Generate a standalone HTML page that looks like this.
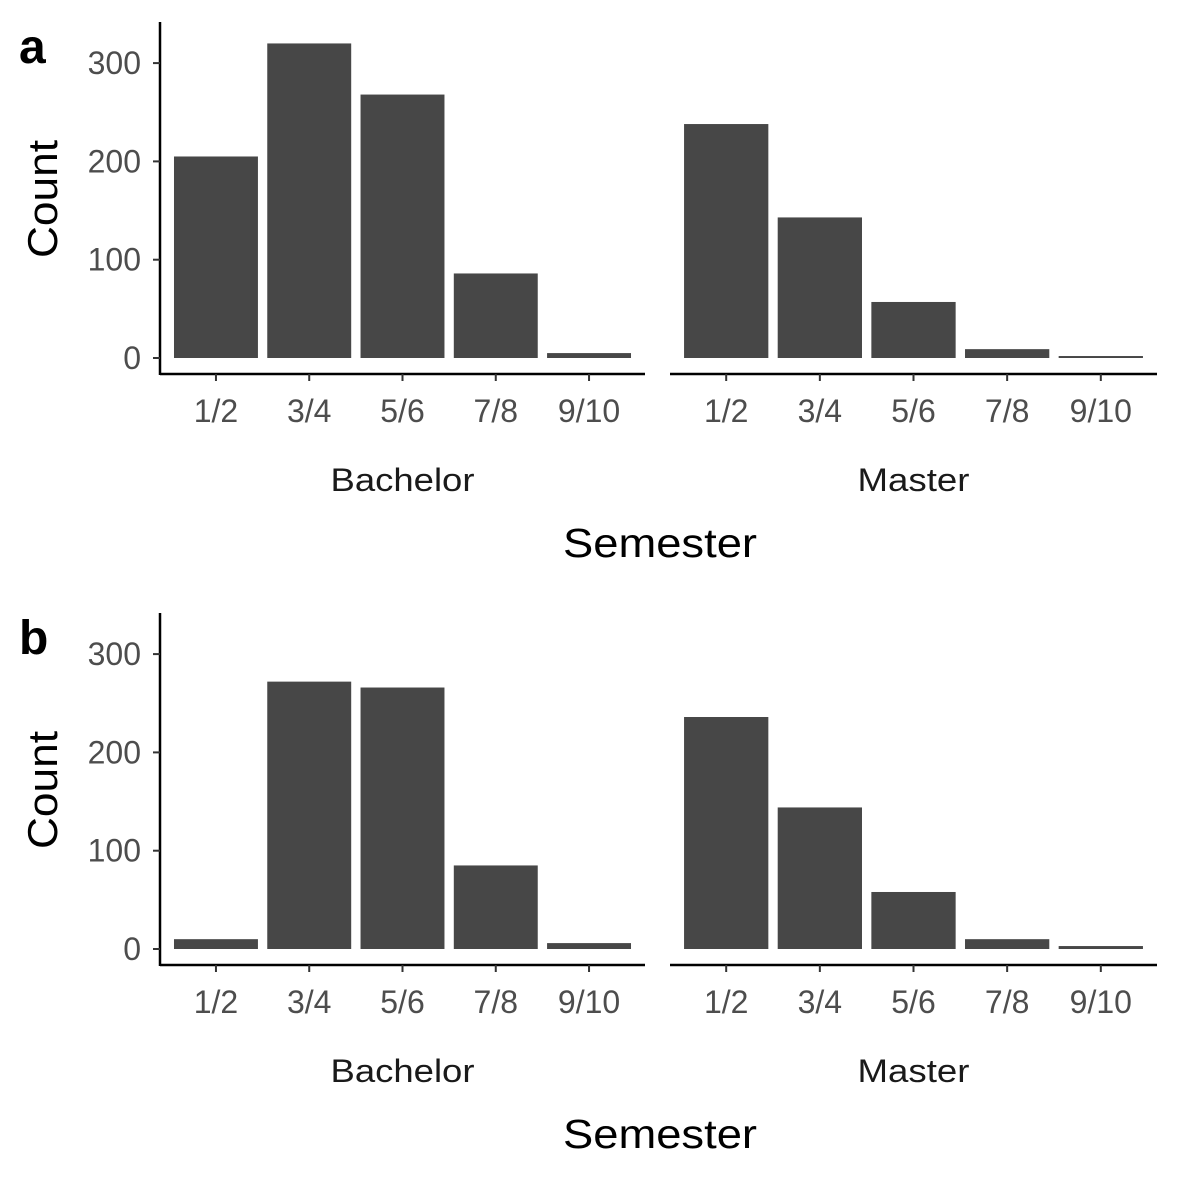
<!DOCTYPE html>
<html><head><meta charset="utf-8"><style>
body{margin:0;background:#fff}
svg{display:block;font-family:"Liberation Sans",Arial,sans-serif}
</style></head><body>
<svg id="chart" width="1181" height="1181" viewBox="0 0 1181 1181"></svg>
<script>
const categories = ["1/2","3/4","5/6","7/8","9/10"];
const facets = ["Bachelor","Master"];
const yTicks = [0,100,200,300];
const panelLabels = ["a","b"];
const aBachelor = [205,320,268,86,5];
const aMaster = [238,143,57,9,2];
const bBachelor = [10,272,266,85,6];
const bMaster = [236,144,58,10,3];
const panelData = [[aBachelor,aMaster],[bBachelor,bMaster]];
const facetWidths = [144,112];

const NS="http://www.w3.org/2000/svg";
const svg=document.getElementById('chart');
function mk(tag,attrs,parent,text){const e=document.createElementNS(NS,tag);for(const k in attrs)e.setAttribute(k,attrs[k]);if(text!==undefined)e.textContent=text;(parent||svg).appendChild(e);return e;}

const pxPer=0.983;
const facetX=[[160,645],[670,1157]];
panelData.forEach((pd,pi)=>{
  const off=pi*591;
  const zeroY=358+off;
  const y=v=>zeroY-v*pxPer;
  const g=mk('g',{});
  
  
  const pl=mk('text',{x:19,y:63+off,'font-size':48,'font-weight':'bold',fill:'#000'},g,panelLabels[pi]);
  
  
  const yt=mk('text',{x:57,y:199+off,'font-size':42,fill:'#000','text-anchor':'middle',textLength:118,lengthAdjust:'spacingAndGlyphs',transform:`rotate(-90 57 ${199+off})`},g,'Count');
  
  
  const yl=mk('line',{x1:160,x2:160,y1:22+off,y2:375+off,stroke:'#000','stroke-width':2.5},g);
  
  
  yTicks.forEach(t=>{
    mk('line',{x1:153,x2:160,y1:y(t),y2:y(t),stroke:'#333','stroke-width':2},g);
    const tl=mk('text',{x:141,y:y(t)+11,'font-size':32,fill:'#4d4d4d','text-anchor':'end'},g,String(t));
    
    
  });
  facets.forEach((f,fi)=>{
    const [x0,x1]=facetX[fi];
    const step=(x1-x0)/(categories.length-1+1.2);
    const cx=i=>x0+step*(0.6+i);
    const xl=mk('line',{x1:x0,x2:x1,y1:374+off,y2:374+off,stroke:'#000','stroke-width':2.5},g);
    
    
    categories.forEach((c,i)=>{
      const v=pd[fi][i];
      const b=mk('rect',{x:cx(i)-step*0.45,y:y(v),width:step*0.9,height:zeroY-y(v),fill:'#474747'},g);
      
      
      mk('line',{x1:cx(i),x2:cx(i),y1:374+off,y2:381+off,stroke:'#333','stroke-width':2},g);
      const tl=mk('text',{x:cx(i),y:422+off,'font-size':32,fill:'#4d4d4d','text-anchor':'middle'},g,c);
      
      
    });
    const fl=mk('text',{x:(x0+x1)/2,y:491+off,'font-size':32,fill:'#1a1a1a','text-anchor':'middle',textLength:facetWidths[fi],lengthAdjust:'spacingAndGlyphs'},g,f);
    
    
  });
  const xt=mk('text',{x:660,y:557+off,'font-size':41,fill:'#000','text-anchor':'middle',textLength:194,lengthAdjust:'spacingAndGlyphs'},g,'Semester');
  
  
});
</script>
</body></html>
